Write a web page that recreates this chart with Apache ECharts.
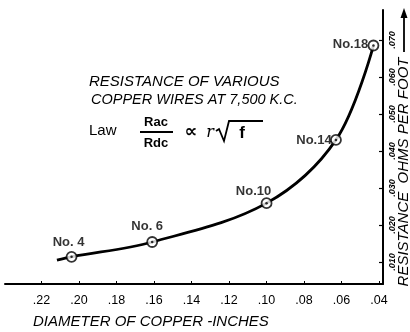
<!DOCTYPE html>
<html>
<head>
<meta charset="utf-8">
<script src="https://cdn.jsdelivr.net/npm/echarts@6/dist/echarts.min.js"></script>
<style>
  html, body { margin: 0; padding: 0; background: #fff; }
  #chart { width: 410px; height: 332px; }
</style>
</head>
<body>
<div id="chart"></div>
<script>
// Wire gauges plotted on the curve
const wireNames = ['No. 4', 'No. 6', 'No.10', 'No.14', 'No.18'];
const diameters = [0.204, 0.161, 0.100, 0.063, 0.043];
const resistance = [0.0114, 0.0154, 0.0259, 0.0430, 0.0685];

// Traced curve: short lead-in on the left, then through each gauge
const curveDiameter = [0.2118, 0.204, 0.161, 0.100, 0.063, 0.043];
const curveResistance = [0.0105, 0.0114, 0.0154, 0.0259, 0.0430, 0.0685];

// Tick values
const xTicks = [0.22, 0.20, 0.18, 0.16, 0.14, 0.12, 0.10, 0.08, 0.06, 0.04];
const yTicks = [0.01, 0.02, 0.03, 0.04, 0.05, 0.06, 0.07];

const ink = '#000';

const labelOffsets = [[-3, -14], [-5, -16], [-13, -12], [-22, 1], [-23, -1]];

const chart = echarts.init(document.getElementById('chart'), null, { renderer: 'canvas' });

const pointData = diameters.map((d, i) => ({
  value: [d, resistance[i]],
  name: wireNames[i],
  label: { offset: labelOffsets[i] }
}));

chart.setOption({
  animation: false,
  backgroundColor: '#fff',
  grid: { left: 5, right: 27, top: 10, bottom: 48 },
  xAxis: {
    type: 'value',
    inverse: true,
    min: 0.0379,
    max: 0.2395,
    axisLine: { show: true, lineStyle: { color: ink, width: 2 } },
    axisTick: { show: true, inside: true, length: 3, customValues: xTicks, lineStyle: { color: ink, width: 1 } },
    axisLabel: {
      customValues: xTicks,
      color: ink,
      fontFamily: 'Liberation Sans',
      fontSize: 12.5,
      margin: 10,
      formatter: v => '.' + String(Math.round(v * 100)).padStart(2, '0')
    },
    splitLine: { show: false }
  },
  yAxis: {
    type: 'value',
    position: 'right',
    min: 0.00405,
    max: 0.0781,
    axisLine: { show: true, lineStyle: { color: ink, width: 2 } },
    axisTick: { show: true, inside: true, length: 4, customValues: yTicks, lineStyle: { color: ink, width: 1.2 } },
    axisLabel: {
      customValues: yTicks,
      color: ink,
      fontFamily: 'Liberation Sans',
      fontStyle: 'italic',
      fontWeight: 'bold',
      fontSize: 9,
      rotate: 90,
      margin: 5,
      formatter: v => '.' + String(Math.round(v * 1000)).padStart(3, '0')
    },
    splitLine: { show: false }
  },
  series: [
    {
      type: 'line',
      data: curveDiameter.map((d, i) => [d, curveResistance[i]]),
      smooth: 0.35,
      showSymbol: false,
      lineStyle: { color: ink, width: 2.8 },
      silent: true,
      z: 2
    },
    {
      type: 'scatter',
      data: pointData,
      symbol: 'circle',
      symbolSize: 10,
      itemStyle: { color: '#fff', borderColor: ink, borderWidth: 1.8 },
      label: {
        show: true,
        position: 'inside',
        formatter: p => p.name,
        color: ink,
        fontFamily: 'Liberation Sans',
        fontWeight: 'bold',
        fontSize: 13,
        align: 'center',
        verticalAlign: 'middle'
      },
      z: 3
    },
    {
      type: 'scatter',
      data: diameters.map((d, i) => [d, resistance[i]]),
      symbol: 'circle',
      symbolSize: 2.5,
      itemStyle: { color: ink },
      silent: true,
      z: 4
    }
  ],
  graphic: [
    {
      type: 'text', left: 89, top: 74,
      style: { text: 'RESISTANCE OF VARIOUS', fill: ink, font: 'italic 15px "Liberation Sans"' }
    },
    {
      type: 'text', left: 91, top: 92,
      style: { text: 'COPPER WIRES AT 7,500 K.C.', fill: ink, font: 'italic 14.5px "Liberation Sans"' }
    },
    {
      type: 'text', x: 89, y: 131,
      style: { text: 'Law', fill: ink, font: '15px "Liberation Sans"', verticalAlign: 'middle' }
    },
    {
      type: 'text', x: 156, y: 122,
      style: { text: 'Rac', fill: ink, font: 'bold 13px "Liberation Sans"', align: 'center', verticalAlign: 'middle' }
    },
    {
      type: 'line', shape: { x1: 140, y1: 132, x2: 173, y2: 132 },
      style: { stroke: ink, lineWidth: 2 }
    },
    {
      type: 'text', x: 156, y: 143,
      style: { text: 'Rdc', fill: ink, font: 'bold 13px "Liberation Sans"', align: 'center', verticalAlign: 'middle' }
    },
    {
      type: 'text', x: 191, y: 132,
      style: { text: '\u221D', fill: ink, font: 'bold 18px "DejaVu Sans"', align: 'center', verticalAlign: 'middle' }
    },
    {
      type: 'text', x: 210, y: 133,
      style: { text: 'r', fill: ink, font: 'italic 16px "DejaVu Serif"', align: 'center', verticalAlign: 'middle' }
    },
    {
      type: 'polyline',
      shape: { points: [[216, 131], [219, 129], [224, 141], [229, 121], [263, 121]] },
      style: { stroke: ink, lineWidth: 1.8, fill: null }
    },
    {
      type: 'text', x: 242, y: 133,
      style: { text: 'f', fill: ink, font: 'bold 17px "Liberation Sans"', align: 'center', verticalAlign: 'middle' }
    },
    {
      type: 'text', left: 33, top: 314,
      style: { text: 'DIAMETER OF COPPER -INCHES', fill: ink, font: 'italic 15px "Liberation Sans"' }
    },
    {
      type: 'text', x: 404, y: 172, rotation: Math.PI / 2,
      style: {
        text: 'RESISTANCE  OHMS PER FOOT',
        fill: ink, font: 'italic 15px "Liberation Sans"',
        align: 'center', verticalAlign: 'middle'
      }
    },
    {
      type: 'line', shape: { x1: 404, y1: 52, x2: 404, y2: 14 },
      style: { stroke: ink, lineWidth: 1.8 }
    },
    {
      type: 'polygon', shape: { points: [[404, 8], [400.5, 18], [407.5, 18]] },
      style: { fill: ink }
    }
  ]
});
</script>
</body>
</html>
